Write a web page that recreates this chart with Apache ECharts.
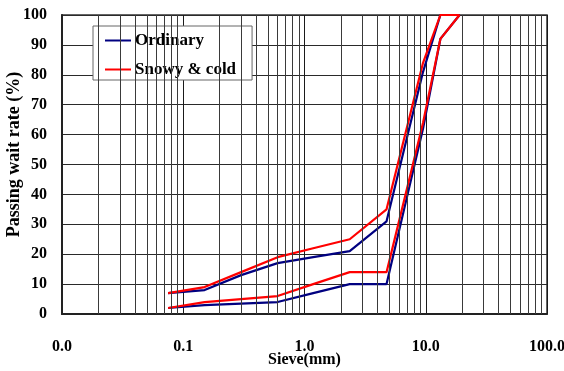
<!DOCTYPE html>
<html>
<head>
<meta charset="utf-8">
<script src="https://cdn.jsdelivr.net/npm/echarts@6/dist/echarts.min.js"></script>
<style>
  html, body { margin: 0; padding: 0; background: #fff; }
  #chart { width: 564px; height: 371px; }
</style>
</head>
<body>
<div id="chart"></div>
<script>
// sieve sizes (mm)
var sieves = [0.075, 0.15, 0.3, 0.6, 1.18, 2.36, 4.75, 9.5, 13.2, 19];
// gradation envelopes, passing %
var ordinaryUpper = [7, 8, 13, 17, 19, 21, 31, 81, 100, 100];
var ordinaryLower = [2, 3, 3.5, 4, 7, 10, 10, 62, 92, 100];
var snowyUpper = [7, 9, 14, 19, 22, 25, 35, 84, 100, 100];
var snowyLower = [2, 4, 5, 6, 10, 14, 14, 64, 92, 100];
var seriesNames = ['Ordinary', 'Snowy & cold'];
// log grid lines between the decades
var minorLines = [0.02, 0.03, 0.04, 0.05, 0.06, 0.07, 0.08, 0.09,
                  0.2, 0.3, 0.4, 0.5, 0.6, 0.7, 0.8, 0.9,
                  2, 3, 4, 5, 6, 7, 8, 9,
                  20, 30, 40, 50, 60, 70, 80, 90];

var font = 'Liberation Serif';

function pairs(ys) {
	var out = [];
	for (var i = 0; i < sieves.length; i++) {
		out.push([sieves[i], ys[i]]);
	}
	return out;
}

function curve(name, ys, color) {
	return {
		name: name,
		type: 'line',
		data: pairs(ys),
		showSymbol: false,
		symbol: 'none',
		z: 3,
		lineStyle: { color: color, width: 2.2 },
		itemStyle: { color: color }
	};
}

var myChart = echarts.init(document.getElementById('chart'), null, { renderer: 'canvas' });

var option = {
	animation: false,
	backgroundColor: '#fff',
	grid: {
		left: 62, right: 17, top: 15, bottom: 57,
		containLabel: false,
		outerBoundsMode: 'none',
		show: true,
		borderColor: '#333',
		borderWidth: 1.5
	},
	legend: {
		data: seriesNames,
		orient: 'vertical',
		left: 93,
		top: 26,
		padding: [6, 16, 2, 12],
		itemGap: 12,
		itemWidth: 26,
		itemHeight: 2,
		icon: 'rect',
		backgroundColor: '#fff',
		borderColor: '#666',
		borderWidth: 1,
		textStyle: {
			fontFamily: font, fontWeight: 'bold', fontSize: 17, color: '#000',
			lineHeight: 17, padding: [0, 0, 0, -1]
		}
	},
	xAxis: {
		type: 'log',
		logBase: 10,
		min: 0.01,
		max: 100,
		name: 'Sieve(mm)',
		nameLocation: 'middle',
		nameGap: 38,
		nameMoveOverlap: false,
		nameTextStyle: { fontFamily: font, fontWeight: 'bold', fontSize: 16, color: '#000' },
		axisLine: { show: true, lineStyle: { color: '#222', width: 2 } },
		axisTick: { show: false },
		axisLabel: {
			margin: 25,
			hideOverlap: false,
			fontFamily: font, fontWeight: 'bold', fontSize: 16, color: '#000',
			formatter: function (v) { return Number(v).toFixed(1); }
		},
		splitLine: { show: true, lineStyle: { color: '#1a1a1a', width: 1 } }
	},
	yAxis: {
		type: 'value',
		min: 0,
		max: 100,
		interval: 10,
		name: 'Passing wait rate (%)',
		nameLocation: 'middle',
		nameGap: 39,
		nameRotate: 90,
		nameMoveOverlap: false,
		nameTextStyle: {
			fontFamily: font, fontWeight: 'bold', fontSize: 18, color: '#000',
			padding: [0, 0, 0, 20]
		},
		axisLine: { show: true, lineStyle: { color: '#222', width: 2 } },
		axisTick: { show: false },
		axisLabel: {
			margin: 15,
			fontFamily: font, fontWeight: 'bold', fontSize: 16, color: '#000'
		},
		splitLine: { show: true, lineStyle: { color: '#2a2a2a', width: 1 } }
	},
	series: [
		{
			type: 'line',
			data: [],
			z: 1,
			silent: true,
			markLine: {
				silent: true,
				symbol: 'none',
				animation: false,
				label: { show: false },
				lineStyle: { color: '#3a3a3a', width: 1, type: 'solid' },
				data: minorLines.map(function (v) { return { xAxis: v }; })
			}
		},
		curve(seriesNames[0], ordinaryUpper, '#000080'),
		curve(seriesNames[0], ordinaryLower, '#000080'),
		curve(seriesNames[1], snowyUpper, '#ff0000'),
		curve(seriesNames[1], snowyLower, '#ff0000')
	]
};

if (option && typeof option === 'object') {
	myChart.setOption(option);
}
</script>
</body>
</html>
